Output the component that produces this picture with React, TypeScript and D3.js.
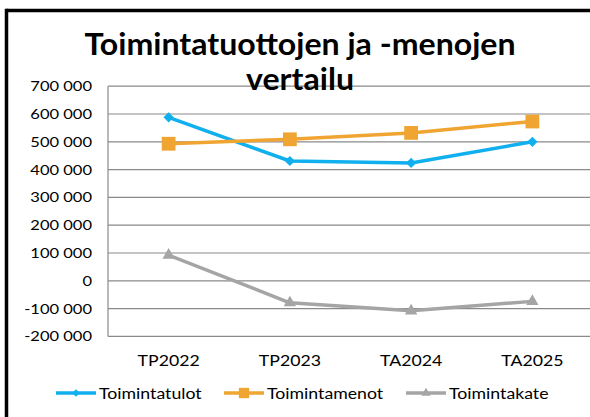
import {useEffect} from "react";
import * as d3 from "d3";

const categories = ["TP2022", "TP2023", "TA2024", "TA2025"];
const toimintatulot = [588000, 431000, 424000, 500000];
const toimintamenot = [493000, 509000, 532000, 573000];
const toimintakate = [92000, -79000, -108000, -74000];
const yTicks = [700000, 600000, 500000, 400000, 300000, 200000, 100000, 0, -100000, -200000];
const titleLines = ["Toimintatuottojen ja -menojen", "vertailu"];

const series = [
  {name: "Toimintatulot", values: toimintatulot, color: "#10AFEE", marker: "diamond"},
  {name: "Toimintamenot", values: toimintamenot, color: "#F0A532", marker: "square"},
  {name: "Toimintakate", values: toimintakate, color: "#A5A5A5", marker: "triangle"},
];

const W = 590, H = 417;
const FONT = "Lato, 'Liberation Sans', sans-serif";
const SX = 1.18; // text in the picture is stretched sideways

const fmt = (v: number) => {
  const s = d3.format(",")(Math.abs(v)).replace(/,/g, " ");
  return (v < 0 ? "-" : "") + s;
};

function markerPath(kind: string, big: boolean) {
  const k = big ? 1 : 0.75;
  if (kind === "diamond") return d3.symbol(d3.symbolSquare, 52 * k * k)();
  if (kind === "square") return d3.symbol(d3.symbolSquare, 190 * k * k)();
  return d3.symbol(d3.symbolTriangle, 66 * k * k)();
}

function Txt({x, y, anchor = "middle", size = 14, weight = "normal", sx = SX, children}: any) {
  return (
    <text transform={`translate(${x},${y}) scale(${sx},1)`} textAnchor={anchor}
          fontFamily={FONT} fontSize={size} fontWeight={weight} fill="#000">
      {children}
    </text>
  );
}

export default function App() {
  useEffect(() => {
    document.documentElement.style.overflow = "hidden";
    document.body.style.overflow = "hidden";
  }, []);

  const x = d3.scaleBand().domain(categories).range([108, 593]);
  const y = d3.scaleLinear().domain([-200000, 700000]).range([336.4, 86.2]);
  const cx = (c: string) => (x(c) as number) + x.bandwidth() / 2;
  const line = d3.line<number>().x((_, i) => cx(categories[i])).y(d => y(d));
  const legendX = [56, 224, 406];

  return (
    <svg width={W} height={H} style={{position: "fixed", left: 0, top: 0, background: "#fff", display: "block"}}>
      <rect x={0} y={0} width={W} height={H} fill="#fff" />
      {/* frame: only the left and top edges fall inside the picture */}
      <line x1={6.5} x2={W} y1={10.5} y2={10.5} stroke="#000" strokeWidth={3.5} />
      <line x1={6.5} x2={6.5} y1={8.75} y2={H} stroke="#000" strokeWidth={3.5} />

      {yTicks.map(t => (
        <g key={t}>
          <line x1={108} x2={593} y1={y(t)} y2={y(t)} stroke="#8a8a8a" strokeWidth={1.2} />
          <Txt x={92} y={y(t) + 5} anchor="end" size={14}>{fmt(t)}</Txt>
        </g>
      ))}
      <line x1={108} x2={108} y1={y(700000)} y2={y(-200000)} stroke="#8a8a8a" strokeWidth={1.2} />

      {categories.map(c => (
        <Txt key={c} x={cx(c)} y={366} size={15}>{c}</Txt>
      ))}

      {series.map(s => (
        <g key={s.name}>
          <path d={line(s.values) || ""} fill="none" stroke={s.color} strokeWidth={3.5} strokeLinejoin="round" />
          {s.values.map((v, i) => (
            <path key={i} d={markerPath(s.marker, true) || ""} fill={s.color}
                  transform={`translate(${cx(categories[i])},${y(v)})${s.marker === "diamond" ? " rotate(45)" : ""}`} />
          ))}
        </g>
      ))}

      {series.map((s, i) => (
        <g key={s.name} transform={`translate(${legendX[i]},393)`}>
          <line x1={0} x2={40} y1={0} y2={0} stroke={s.color} strokeWidth={3.5} />
          <path d={markerPath(s.marker, false) || ""} fill={s.color}
                transform={`translate(20,0)${s.marker === "diamond" ? " rotate(45)" : ""}`} />
          <Txt x={43} y={5.5} anchor="start" size={15}>{s.name}</Txt>
        </g>
      ))}

      {titleLines.map((l, i) => (
        <Txt key={l} x={300} y={55 + i * 35} size={30} weight="bold" sx={1.07}>{l}</Txt>
      ))}
    </svg>
  );
}
